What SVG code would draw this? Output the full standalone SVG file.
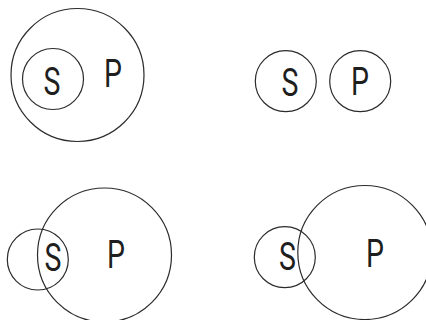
<svg xmlns="http://www.w3.org/2000/svg" width="426" height="320" viewBox="0 0 426 320">
  <style>
    .ring { fill: none; stroke: #2b2b2b; stroke-width: 1.2; }
    .lbl { font-family: Roboto, "Liberation Sans", sans-serif; font-weight: 400; font-size: 38px; fill: #1e1e1e; text-anchor: middle; }
  </style>
  <rect width="426" height="320" fill="#ffffff"/>

  <!-- S inside P -->
  <g id="panel-contained">
    <g id="p1-P">
      <circle class="ring" cx="77.5" cy="75" r="66.5"/>
      <text class="lbl" transform="translate(113,87) scale(0.75,1)">P</text>
    </g>
    <g id="p1-S">
      <circle class="ring" cx="53" cy="79" r="30.5"/>
      <text class="lbl" transform="translate(52,95) scale(0.75,1)">S</text>
    </g>
  </g>

  <!-- S and P disjoint -->
  <g id="panel-disjoint">
    <g id="p2-S">
      <circle class="ring" cx="285.8" cy="81.2" r="30.5"/>
      <text class="lbl" transform="translate(290,95.5) scale(0.75,1)">S</text>
    </g>
    <g id="p2-P">
      <circle class="ring" cx="360.2" cy="81.2" r="30.5"/>
      <text class="lbl" transform="translate(360,94.5) scale(0.75,1)">P</text>
    </g>
  </g>

  <!-- S overlapping P, label in the overlap -->
  <g id="panel-overlap-a">
    <g id="p3-S">
      <circle class="ring" cx="37.8" cy="259.5" r="30.5"/>
      <text class="lbl" transform="translate(53,271) scale(0.75,1)">S</text>
    </g>
    <g id="p3-P">
      <circle class="ring" cx="104.5" cy="255" r="67"/>
      <text class="lbl" transform="translate(116,268) scale(0.75,1)">P</text>
    </g>
  </g>

  <!-- S overlapping P, label outside the overlap -->
  <g id="panel-overlap-b">
    <g id="p4-S">
      <circle class="ring" cx="284.8" cy="257.2" r="30.5"/>
      <text class="lbl" transform="translate(287.5,270) scale(0.75,1)">S</text>
    </g>
    <g id="p4-P">
      <circle class="ring" cx="364.8" cy="252.5" r="67"/>
      <text class="lbl" transform="translate(375,267) scale(0.75,1)">P</text>
    </g>
  </g>
</svg>
